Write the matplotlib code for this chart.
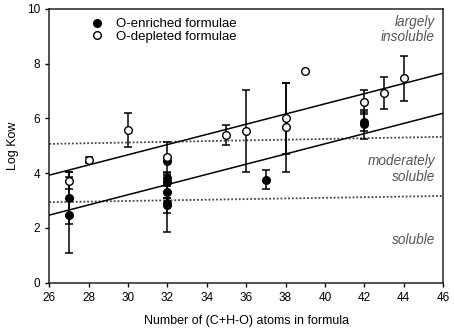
import numpy as np
import matplotlib
matplotlib.use("Agg")
import matplotlib.pyplot as plt

plt.rcParams['font.family'] = ['Liberation Sans', 'DejaVu Sans']

# O-enriched formulae (filled)
enr_x = [27, 27, 32, 32, 32, 32, 32, 32, 37, 42, 42]
enr_y = [3.10, 2.47, 4.43, 3.81, 3.69, 3.32, 2.90, 2.83, 3.77, 5.88, 5.78]
enr_err = [0.95, 1.40, 0.0, 0.25, 0.0, 0.22, 1.03, 0.28, 0.33, 0.35, 0.53]

# O-depleted formulae (open)
dep_x = [27, 28, 30, 32, 35, 36, 38, 38, 39, 42, 43, 44]
dep_y = [3.73, 4.48, 5.58, 4.58, 5.40, 5.55, 6.00, 5.68, 7.75, 6.61, 6.92, 7.47]
dep_err = [0.30, 0.10, 0.63, 0.57, 0.37, 1.50, 1.28, 1.62, 0.0, 0.43, 0.59, 0.82]

# regression lines and solubility boundaries (end values at x=26 and x=46)
line_x = [26, 46]
fit_dep = [3.93, 7.65]
fit_enr = [2.47, 6.19]
bound_hi = [5.07, 5.33]
bound_lo = [2.94, 3.17]

fig = plt.figure(figsize=(4.54, 3.32), dpi=100)
ax = fig.add_axes([0.1086, 0.1485, 0.8672, 0.8244])

ax.plot(line_x, bound_hi, color='#444444', linestyle=(0, (1, 1.1)), linewidth=1.3)
ax.plot(line_x, bound_lo, color='#444444', linestyle=(0, (1, 1.1)), linewidth=1.3)
ax.plot(line_x, fit_dep, color='black', linewidth=1.1)
ax.plot(line_x, fit_enr, color='black', linewidth=1.1)

ax.errorbar(enr_x, enr_y, yerr=enr_err, fmt='none', ecolor='black',
            elinewidth=1.1, capsize=3.2, capthick=1.1)
ax.errorbar(dep_x, dep_y, yerr=dep_err, fmt='none', ecolor='black',
            elinewidth=1.1, capsize=3.2, capthick=1.1)
ax.plot(enr_x, enr_y, 'o', color='black', markersize=5.5, label='O-enriched formulae', zorder=5)
ax.plot(dep_x, dep_y, 'o', markerfacecolor='white', markeredgecolor='black',
        markeredgewidth=1.0, markersize=5.5, label='O-depleted formulae', zorder=6)

ax.set_xlim(26, 46)
ax.set_ylim(0, 10)
ax.set_xticks(np.arange(26, 47, 2))
ax.set_yticks(np.arange(0, 11, 2))
ax.tick_params(direction='out', length=3, width=1, labelsize=8.5)
for s in ax.spines.values():
    s.set_linewidth(1.1)
    s.set_color('#222222')

ax.set_xlabel('Number of (C+H-O) atoms in formula', fontsize=9, labelpad=8)
ax.set_ylabel('Log Kow', fontsize=9, labelpad=6)

ax.text(45.6, 9.25, 'largely\ninsoluble', ha='right', va='center', style='italic',
        color='#555555', fontsize=9.8, linespacing=1.15)
ax.text(45.6, 4.15, 'moderately\nsoluble', ha='right', va='center', style='italic',
        color='#555555', fontsize=9.8, linespacing=1.15)
ax.text(45.6, 1.55, 'soluble', ha='right', va='center', style='italic',
        color='#555555', fontsize=9.8)

ax.legend(loc='upper left', bbox_to_anchor=(0.065, 1.01), frameon=False, fontsize=9.5,
          handletextpad=0.7, borderpad=0.4, labelspacing=0.02, handlelength=1.5)

fig.savefig('out.png', dpi=100)
